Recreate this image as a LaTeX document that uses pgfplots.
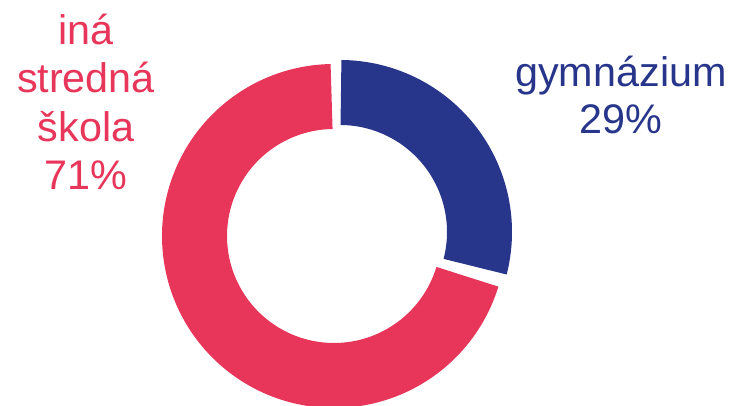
\documentclass[border=0pt]{standalone}
\usepackage{pgfplots}
\pgfplotsset{compat=1.18}
\usepackage{fontspec}
\setmainfont{Liberation Sans}
\definecolor{gblue}{RGB}{39,53,139}
\definecolor{gred}{RGB}{232,53,90}
% shares (percent)
\def\gym{29}
\def\ina{71}
\begin{document}
\begin{tikzpicture}
\pgfmathsetmacro{\bS}{90-3.6*\gym}      % blue slice start angle
\pgfmathsetmacro{\bE}{89.6}             % blue slice end angle (12 o'clock)
\pgfmathsetmacro{\rS}{91}               % red slice start (12 o'clock + gap)
\pgfmathsetmacro{\rE}{90+3.6*\ina-2.6}  % red slice end (gap before blue)
\begin{axis}[width=551.25pt,height=304.5pt,scale only axis,
  xmin=0,xmax=735,ymin=0,ymax=406,hide axis,clip=true]
\addplot[gred,line width=48.75pt,domain=\rS:\rE,samples=200]
  ({334+139.5*cos(x)},{170+139.5*sin(x)});
\addplot[gblue,line width=48.75pt,domain=\bS:\bE,samples=120]
  ({340+139.5*cos(x)},{174+139.5*sin(x)});
\tikzset{lab/.style={anchor=base,font=\fontsize{31}{36}\selectfont}}
\node[lab,gred] at (axis cs:86,361.7) {iná};
\node[lab,gred] at (axis cs:86,313.3) {stredná};
\node[lab,gred] at (axis cs:86,264.3) {škola};
\node[lab,gred] at (axis cs:86,216) {71\%};
\node[lab,gblue] at (axis cs:621,319.3) {gymnázium};
\node[lab,gblue] at (axis cs:621,272) {29\%};
\end{axis}
\pgfresetboundingbox
\path (current axis.south west) rectangle (current axis.north east);
\end{tikzpicture}
\end{document}
